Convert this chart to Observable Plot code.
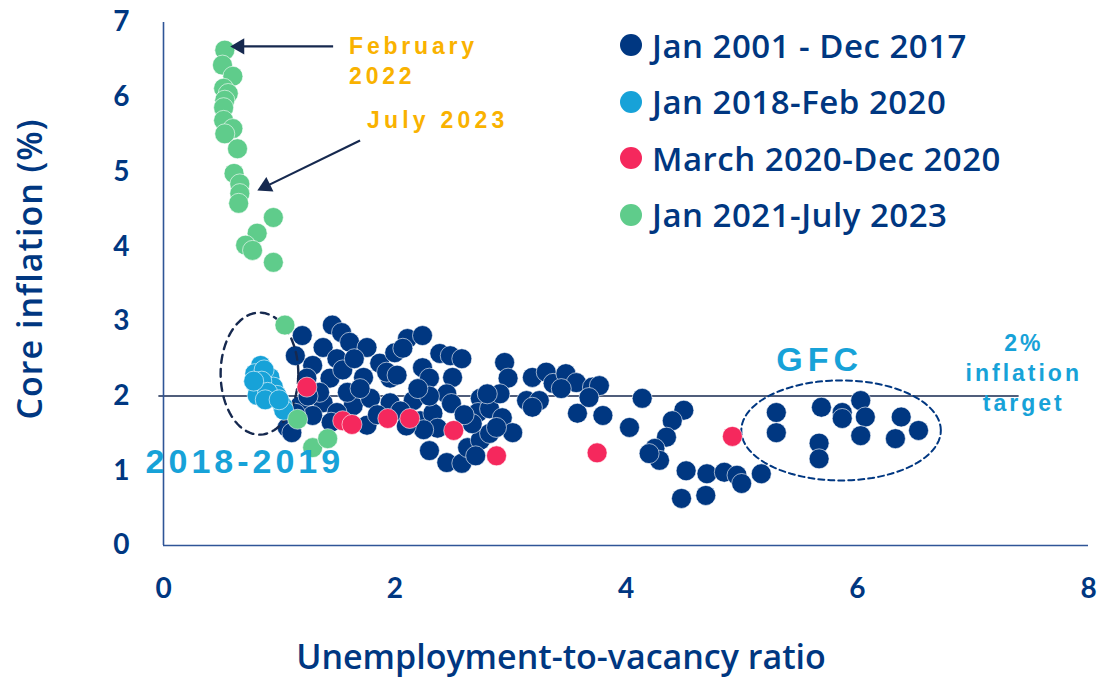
<!DOCTYPE html>
<html>
<head>
<meta charset="utf-8">
<script src="https://cdn.jsdelivr.net/npm/d3@7"></script>
<script src="https://cdn.jsdelivr.net/npm/@observablehq/plot@0.6"></script>
<style>
  html, body { margin: 0; padding: 0; background: #fff; }
  #wrap { position: relative; width: 1099px; height: 678px; }
  #wrap svg { position: absolute; left: 0; top: 0; }
  #legend { position: absolute; left: 620px; top: 17px; font-family: "Open Sans", Lato, sans-serif; font-weight: 600; font-size: 33px; letter-spacing: 0.5px; color: #003781; }
  .row { display: flex; align-items: center; height: 56.5px; }
  .sw { width: 22px; height: 22px; border-radius: 50%; margin-right: 10px; flex: none; }
</style>
</head>
<body>
<div id="wrap"><div id="legend"></div></div>
<script>
// ---- Data (unemployment-to-vacancy ratio, core inflation %) ----
const seriesNames = ["Jan 2001 - Dec 2017", "Jan 2018-Feb 2020", "March 2020-Dec 2020", "Jan 2021-July 2023"];
const seriesColors = ["#003781", "#17A2D8", "#F5285D", "#5FCC8B"];

const jan2001_dec2017 = [
  [1.46,2.95],[1.20,2.81],[1.54,2.85],[1.14,2.54],[1.38,2.65],[1.61,2.72],[1.76,2.65],[1.29,2.41],
  [1.50,2.50],[1.87,2.44],[2.00,2.58],[1.24,2.24],[1.44,2.24],[1.73,2.25],[1.96,2.24],[1.38,1.91],
  [1.64,1.87],[1.79,1.97],[1.96,1.91],[1.18,1.87],[1.10,1.61],[1.76,1.61],[1.29,1.74],[1.50,1.78],
  [1.59,2.05],[1.07,1.58],[1.11,1.51],[1.35,2.05],[1.55,2.35],[1.70,2.10],[1.85,1.75],[1.25,2.00],
  [1.65,2.50],[1.45,1.65],[1.14,1.77],[1.93,2.32],[2.02,2.28],[2.16,1.94],[2.22,1.67],[2.11,2.77],
  [2.24,2.81],[2.07,2.64],[2.39,2.57],[2.48,2.54],[2.58,2.50],[2.24,2.38],[2.30,2.24],[2.50,2.25],
  [2.45,2.03],[2.49,1.90],[2.33,1.77],[2.37,1.57],[2.30,1.27],[2.45,1.11],[2.58,1.10],[2.05,1.80],
  [2.30,2.00],[2.20,2.10],[2.25,1.55],[2.10,1.60],[2.74,1.97],[2.72,1.78],[2.82,1.83],[2.63,1.31],
  [2.74,1.41],[2.82,1.50],[2.93,1.71],[3.02,1.51],[2.95,2.45],[2.98,2.24],[2.91,2.03],[2.80,2.03],
  [2.67,1.63],[2.88,1.58],[2.60,1.75],[2.70,1.20],[3.14,1.94],[3.19,2.25],[3.31,2.32],[3.37,2.17],
  [3.25,1.94],[3.48,2.30],[3.57,2.18],[3.44,2.10],[3.71,2.12],[3.77,2.14],[3.58,1.77],[3.80,1.74],
  [3.68,1.98],[3.19,1.85],[4.03,1.58],[4.14,1.97],[4.50,1.81],[4.40,1.67],[4.35,1.45],[4.25,1.30],
  [4.29,1.14],[4.20,1.23],[4.52,1.00],[4.48,0.63],[4.69,0.67],[4.70,0.96],[4.85,0.98],[4.96,0.94],
  [5.00,0.83],[5.17,0.96],[5.30,1.78],[5.30,1.51],[5.69,1.85],[5.67,1.37],[5.67,1.16],[5.87,1.78],
  [5.87,1.70],[6.03,1.94],[6.07,1.72],[6.03,1.47],[6.38,1.72],[6.33,1.43],[6.53,1.54]
];
const jan2018_feb2020 = [
  [0.84,2.41],[0.79,2.30],[0.92,2.25],[0.81,2.12],[0.95,2.12],[0.81,2.01],[0.98,2.01],[1.03,1.87],
  [1.04,1.81],[0.87,2.35],[0.85,2.20],[0.90,2.05],[0.78,2.20],[0.88,1.95],[1.00,1.95]
];
const mar2020_dec2020 = [
  [1.24,2.12],[1.55,1.67],[1.63,1.62],[1.94,1.70],[2.13,1.70],[2.51,1.54],[2.88,1.20],[3.75,1.24],[4.92,1.46]
];
const jan2021_jul2023 = [
  [0.53,6.63],[0.51,6.43],[0.60,6.28],[0.52,6.12],[0.56,6.05],[0.53,5.96],[0.52,5.86],[0.52,5.69],
  [0.60,5.58],[0.53,5.51],[0.64,5.31],[0.61,4.98],[0.66,4.84],[0.66,4.71],[0.65,4.58],[0.95,4.39],
  [0.81,4.18],[0.71,4.02],[0.77,3.95],[0.95,3.79],[1.05,2.95],[1.16,1.69],[1.29,1.31],[1.42,1.43]
];
const xTicks = [0, 2, 4, 6, 8];
const yTicks = [0, 1, 2, 3, 4, 5, 6, 7];
const inflationTarget = 2;

// ---- Styles ----
const NAVY = "#003781", DARK = "#16294f", AMBER = "#F9B200", LBLUE = "#17A2D8";
const FONT = "Lato, 'Open Sans', sans-serif";
const LFONT = "'Open Sans', Lato, sans-serif";
const AFONT = "'Liberation Sans', Arial, sans-serif";

function ellipse(cx, cy, rx, ry, n = 90) {
  return d3.range(n).map(i => { const t = 2 * Math.PI * i / n; return [cx + rx * Math.cos(t), cy + ry * Math.sin(t)]; });
}

const dots = (data, i) => Plot.dot(data, {x: d => d[0], y: d => d[1], r: 10, fill: seriesColors[i], stroke: "white", strokeWidth: 0.6});

const plot = Plot.plot({
  width: 1099, height: 678,
  marginLeft: 163, marginRight: 11, marginTop: 22, marginBottom: 133,
  x: {domain: [0, 8]},
  y: {domain: [0, 7]},
  style: {fontFamily: FONT, background: "transparent", overflow: "visible"},
  marks: [
    Plot.ruleY([inflationTarget], {x1: -0.04, x2: 7.4, stroke: DARK, strokeWidth: 1.6}),
    Plot.ruleX([0], {y1: 0, y2: 7, stroke: "#2f5597", strokeWidth: 1.6}),
    Plot.ruleY([0], {x1: 0, x2: 8, stroke: "#2f5597", strokeWidth: 1.6}),
    Plot.axisX({ticks: xTicks, tickSize: 0, tickPadding: 33, fontSize: 28, fontWeight: "bold", fill: NAVY, label: null, tickFormat: d => d}),
    Plot.axisY({ticks: yTicks, tickSize: 0, tickPadding: 34, fontSize: 28, fontWeight: "bold", fill: NAVY, label: null, tickFormat: d => d}),
    Plot.text(["Unemployment-to-vacancy ratio"], {frameAnchor: "bottom", dx: -65, dy: 113, fontFamily: LFONT, fontSize: 34, fill: NAVY, fontWeight: 600, textAnchor: "middle", lineAnchor: "middle"}),
    Plot.text(["Core inflation (%)"], {frameAnchor: "left", dx: -132, dy: -15, rotate: -90, fontFamily: LFONT, fontSize: 34, fill: NAVY, fontWeight: 600, textAnchor: "middle", lineAnchor: "middle"}),
    dots(jan2001_dec2017, 0),
    Plot.line(ellipse(0.83, 2.30, 0.336, 0.817), {x: d => d[0], y: d => d[1], curve: "linear-closed", stroke: DARK, strokeWidth: 2.4, strokeDasharray: "8,6"}),
    Plot.line(ellipse(5.86, 1.54, 0.863, 0.67), {x: d => d[0], y: d => d[1], curve: "linear-closed", stroke: NAVY, strokeWidth: 2, strokeDasharray: "6,4"}),
    dots(jan2018_feb2020, 1),
    dots(mar2020_dec2020, 2),
    dots(jan2021_jul2023, 3),
    // arrows
    Plot.link([0], {x1: 1.467, y1: 6.68, x2: 0.66, y2: 6.68, stroke: DARK, strokeWidth: 2.2}),
    Plot.dot([0], {x: 0.658, y: 6.68, symbol: "triangle", r: 6, fill: DARK, rotate: -90}),
    Plot.link([0], {x1: 1.70, y1: 5.42, x2: 0.89, y2: 4.81, stroke: DARK, strokeWidth: 2.2}),
    Plot.dot([0], {x: 0.884, y: 4.807, symbol: "triangle", r: 6, fill: DARK, rotate: -116}),
    // annotations
    Plot.text(["February\n2022"], {x: 1.605, y: 6.51, textAnchor: "start", fontFamily: AFONT, fontWeight: "bold", fontSize: 23, fill: AMBER, lineHeight: 1.3}),
    Plot.text(["July 2023"], {x: 1.76, y: 5.68, textAnchor: "start", fontFamily: AFONT, fontWeight: "bold", fontSize: 23, fill: AMBER}),
    Plot.text(["2018-2019"], {x: -0.155, y: 1.12, textAnchor: "start", fontFamily: AFONT, fontWeight: "bold", fontSize: 34, fill: LBLUE}),
    Plot.text(["GFC"], {x: 5.3, y: 2.48, textAnchor: "start", fontFamily: AFONT, fontWeight: "bold", fontSize: 34, fill: LBLUE}),
    Plot.text(["2%\ninflation\ntarget"], {x: 7.44, y: 2.33, textAnchor: "middle", fontFamily: AFONT, fontWeight: "bold", fontSize: 23, fill: LBLUE, lineHeight: 1.3})
  ]
});

const spacing = {"February": 3.8, "2022": 3.8, "July 2023": 4.2, "2018-2019": 4, "GFC": 5, "2%": 3, "inflation": 3, "target": 3, "Core inflation (%)": 1};
plot.querySelectorAll("text, tspan").forEach(t => {
  const s = spacing[t.textContent];
  if (s != null) t.setAttribute("letter-spacing", s);
});

const wrap = document.getElementById("wrap");
wrap.insertBefore(plot, wrap.firstChild);

const legend = document.getElementById("legend");
seriesNames.forEach((name, i) => {
  const row = document.createElement("div");
  row.className = "row";
  const sw = document.createElement("span");
  sw.className = "sw";
  sw.style.background = seriesColors[i];
  const tx = document.createElement("span");
  tx.textContent = name;
  row.appendChild(sw); row.appendChild(tx);
  legend.appendChild(row);
});
</script>
</body>
</html>
